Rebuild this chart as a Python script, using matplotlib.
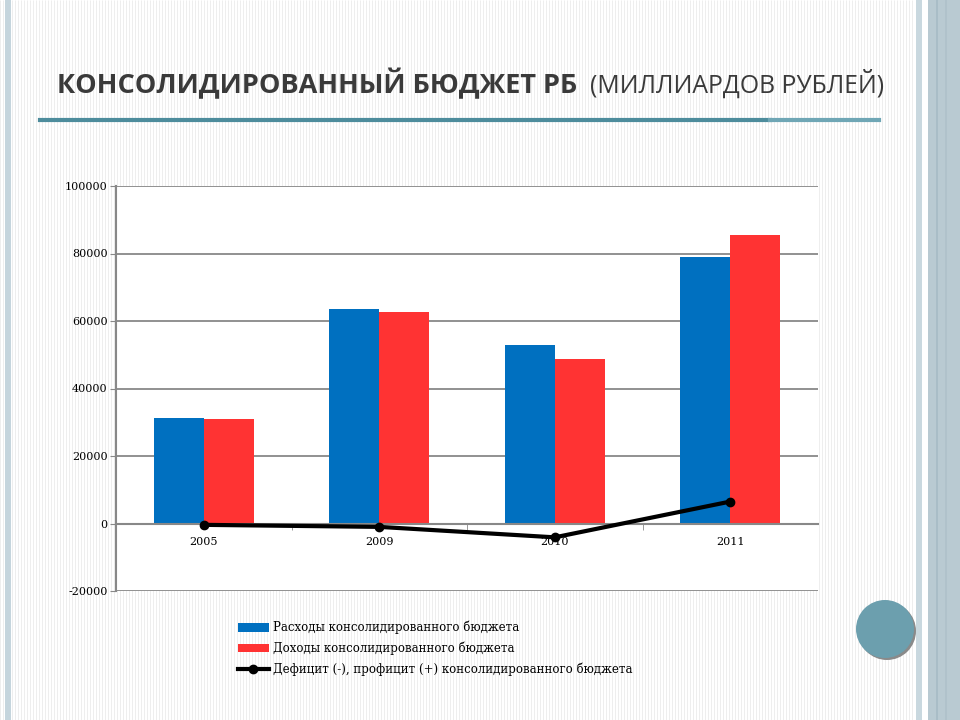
import matplotlib
matplotlib.use("Agg")
import matplotlib.pyplot as plt
import numpy as np
from matplotlib.collections import LineCollection
from matplotlib.patches import Rectangle, Ellipse
from matplotlib.lines import Line2D

# ---- data ----
years = ["2005", "2009", "2010", "2011"]
expenses = [31300, 63700, 52900, 79000]
revenues = [30900, 62700, 48800, 85500]
balance = [-400, -1000, -4100, 6500]
yticks = [-20000, 0, 20000, 40000, 60000, 80000, 100000]
title_bold = "КОНСОЛИДИРОВАННЫЙ БЮДЖЕТ РБ"
title_reg = "(МИЛЛИАРДОВ РУБЛЕЙ)"
labels = ["Расходы консолидированного бюджета",
          "Доходы консолидированного бюджета",
          "Дефицит (-), профицит (+) консолидированного бюджета"]

W, H = 960, 720
fig = plt.figure(figsize=(9.6, 7.2), dpi=100, facecolor="white")

def fx(px):
    return px / W

def fy(py):
    return 1 - py / H

# background stripes
segs = [[(fx(x), 0), (fx(x), 1)] for x in np.arange(0, 915, 3)]
fig.add_artist(LineCollection(segs, colors="#eeeeee", linewidths=0.7,
                              transform=fig.transFigure, zorder=-10))
# left band
fig.add_artist(Rectangle((fx(5), 0), fx(6), 1, transform=fig.transFigure,
                         facecolor="#c5d5dd", edgecolor="none", zorder=-5))
# right bands
fig.add_artist(Rectangle((fx(916), 0), fx(6), 1, transform=fig.transFigure,
                         facecolor="#c9d8df", edgecolor="none", zorder=-5))
fig.add_artist(Rectangle((fx(922), 0), fx(6), 1, transform=fig.transFigure,
                         facecolor="white", edgecolor="none", zorder=-5))
fig.add_artist(Rectangle((fx(928), 0), fx(32), 1, transform=fig.transFigure,
                         facecolor="#b9cad2", edgecolor="none", zorder=-5))
for xx, c in [(936, "#a9bdc7"), (945, "#b0c2cb")]:
    fig.add_artist(Rectangle((fx(xx), 0), fx(2), 1, transform=fig.transFigure,
                             facecolor=c, edgecolor="none", zorder=-4))

# circle decoration
fig.add_artist(Ellipse((fx(887), fy(631)), fx(58), 58 / H, transform=fig.transFigure,
                       facecolor="#8a8a8a", edgecolor="none", zorder=3))
fig.add_artist(Ellipse((fx(885), fy(629)), fx(58), 58 / H, transform=fig.transFigure,
                       facecolor="#6c9fae", edgecolor="none", zorder=4))

# title
fig.text(fx(57), fy(84), title_bold, fontsize=19.5, fontweight="bold",
         family="Open Sans", color="#3a3a3a", va="center", ha="left")
fig.text(fx(590), fy(84), title_reg, fontsize=17.8, family="Open Sans",
         color="#3a3a3a", va="center", ha="left")
# underline
fig.add_artist(Line2D([fx(40), fx(770)], [fy(120), fy(120)], color="#4d8c9c",
                      lw=3, transform=fig.transFigure))
fig.add_artist(Line2D([fx(770), fx(879)], [fy(120), fy(120)], color="#6fa6b5",
                      lw=3, transform=fig.transFigure))

# axes
ax = fig.add_axes([fx(116), fy(591), fx(818 - 116), (591 - 186) / H])
ax.set_facecolor("white")
x = np.arange(len(years)) + 0.5
bw = 0.285
ax.bar(x - bw / 2, expenses, bw, color="#0070c0", zorder=3, label=labels[0])
ax.bar(x + bw / 2, revenues, bw, color="#ff3333", zorder=3, label=labels[1])
ax.plot(x, balance, color="black", lw=3, marker="o", ms=6, zorder=5, label=labels[2])

ax.set_xlim(0, 4)
ax.set_ylim(-20000, 100000)
ax.set_yticks(yticks)
ax.set_yticklabels([str(v) for v in yticks], family="DejaVu Serif", fontsize=8)
ax.yaxis.grid(True, color="#888888", lw=1.3, zorder=1)
ax.set_axisbelow(True)
ax.tick_params(axis="y", length=4, color="#888888", pad=2)

for s in ["top", "right"]:
    ax.spines[s].set_visible(False)
ax.spines["left"].set_color("#888888")
ax.spines["left"].set_linewidth(1.5)
ax.spines["bottom"].set_position(("data", 0))
ax.spines["bottom"].set_color("#888888")
ax.spines["bottom"].set_linewidth(1.5)
ax.spines["bottom"].set_zorder(4)

ax.set_xticks(x)
ax.set_xticklabels(years, family="DejaVu Serif", fontsize=8)
ax.set_xticks([1, 2, 3], minor=True)
ax.tick_params(axis="x", which="major", length=0, pad=10)
ax.tick_params(axis="x", which="minor", length=4, color="#888888", direction="out")

h, l = ax.get_legend_handles_labels()
idx = [l.index(s) for s in labels]
fig.legend([h[i] for i in idx], [l[i] for i in idx], loc="upper left",
           bbox_to_anchor=(fx(238), fy(621)),
           frameon=False, prop={"family": "DejaVu Serif", "size": 8.5},
           handlelength=2.6, handleheight=0.7, handletextpad=0.4,
           labelspacing=0.6, borderaxespad=0, borderpad=0)

fig.savefig("out.png", dpi=100, facecolor=fig.get_facecolor())
